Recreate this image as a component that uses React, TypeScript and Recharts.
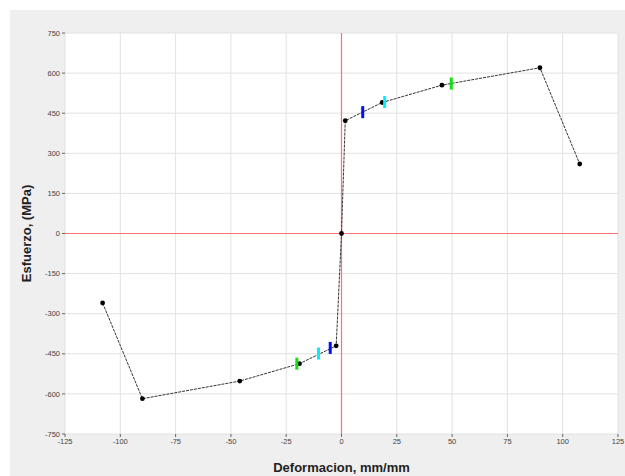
import {
  ComposedChart,
  Scatter,
  XAxis,
  YAxis,
  CartesianGrid,
  ReferenceLine,
  Label,
} from "recharts";

// hysteresis-like stress/strain curve
const strain = [-108, -90, -46, -19, -2.4, 0, 1.7, 18.4, 45.4, 89.7, 107.7];
const stress = [-260, -618, -552, -487, -420, 0, 422, 490, 555, 620, 260];

// coloured limit marks on the curve
const blueStrain = [-5.1, 9.6];
const blueStress = [-428, 454];
const cyanStrain = [-10.4, 19.5];
const cyanStress = [-449, 492];
const greenStrain = [-20.2, 49.6];
const greenStress = [-487, 561];

const xTicks = [-125, -100, -75, -50, -25, 0, 25, 50, 75, 100, 125];
const yTicks = [-750, -600, -450, -300, -150, 0, 150, 300, 450, 600, 750];

const zip = (xs: number[], ys: number[]) => xs.map((x, i) => ({ x, y: ys[i] }));

const curve = zip(strain, stress);
const blueMarks = zip(blueStrain, blueStress);
const cyanMarks = zip(cyanStrain, cyanStress);
const greenMarks = zip(greenStrain, greenStress);

const tickStyle = { fill: "#444", fontSize: 7.5, fontFamily: "Arial, 'Liberation Sans', sans-serif" };
const titleFont = "Arial, 'Liberation Sans', sans-serif";
const axisRed = "#ff7070";

const Dot = (props: any) => {
  const { cx, cy } = props;
  if (cx == null || cy == null) return null;
  return <circle cx={cx} cy={cy} r={2.4} fill="#000" />;
};

const barMark = (color: string) => (props: any) => {
  const { cx, cy } = props;
  if (cx == null || cy == null) return null;
  return <rect x={cx - 1.5} y={cy - 6} width={3} height={12} fill={color} />;
};

const App = () => {
  return (
    <div style={{ position: "absolute", left: 0, top: 0, width: 625, height: 476, background: "#fff" }}>
      <div
        style={{ position: "absolute", left: 10, top: 10, width: 615, height: 466, background: "#efefef" }}
      />
      <div style={{ position: "absolute", left: 0, top: 0 }}>
        <ComposedChart width={625} height={476} margin={{ top: 33, right: 7, bottom: 0, left: 0 }}>
          <CartesianGrid stroke="#e2e2e2" fill="#fff" />
          <XAxis
            type="number"
            dataKey="x"
            domain={[-125, 125]}
            ticks={xTicks}
            interval={0}
            tick={tickStyle}
            tickSize={3}
            tickLine={{ stroke: "#666" }}
            axisLine={false}
            height={42}
          >
            <Label
              value="Deformacion, mm/mm"
              position="insideBottom"
              offset={4}
              style={{ fontSize: 13, fontWeight: "bold", fill: "#222", fontFamily: titleFont }}
            />
          </XAxis>
          <YAxis
            type="number"
            dataKey="y"
            domain={[-750, 750]}
            ticks={yTicks}
            interval={0}
            tick={tickStyle}
            tickSize={3}
            tickLine={{ stroke: "#666" }}
            axisLine={false}
            width={65}
          >
            <Label
              value="Esfuerzo, (MPa)"
              angle={-90}
              position="insideLeft"
              offset={26}
              style={{ fontSize: 13, fontWeight: "bold", fill: "#222", fontFamily: titleFont, textAnchor: "middle" }}
            />
          </YAxis>
          <ReferenceLine x={0} stroke={axisRed} strokeWidth={1.2} style={{ stroke: axisRed }} />
          <ReferenceLine y={0} stroke={axisRed} strokeWidth={1.2} style={{ stroke: axisRed }} />
          <Scatter
            data={curve}
            line={{ stroke: "#333", strokeWidth: 1, strokeDasharray: "3 1" }}
            lineType="joint"
            shape={<Dot />}
            isAnimationActive={false}
          />
          <Scatter data={blueMarks} shape={barMark("#0010ff")} isAnimationActive={false} />
          <Scatter data={cyanMarks} shape={barMark("#00f0ff")} isAnimationActive={false} />
          <Scatter data={greenMarks} shape={barMark("#10e010")} isAnimationActive={false} />
        </ComposedChart>
      </div>
    </div>
  );
};

export default App;
